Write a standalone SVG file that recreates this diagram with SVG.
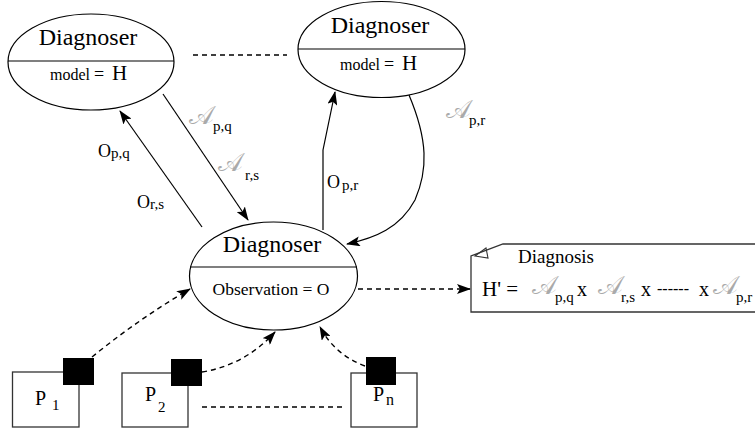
<svg xmlns="http://www.w3.org/2000/svg" width="755" height="432" viewBox="0 0 755 432" font-family="'Liberation Serif', 'Times New Roman', serif">
<style>
.el{fill:#fff;stroke:#000;stroke-width:1.2}
.ln{fill:none;stroke:#000;stroke-width:1.2}
.dash{fill:none;stroke:#000;stroke-width:1.4;stroke-dasharray:5,4}
.box{fill:#fff;stroke:#333;stroke-width:1.3}
.sq{fill:#000}
.scr{font-family:'DejaVu Serif','Noto Sans',serif;fill:#aaa}
.title{font-size:24px}
</style>
<defs>
<marker id="ah" markerWidth="14" markerHeight="10" refX="13" refY="5" orient="auto" markerUnits="userSpaceOnUse">
<path d="M0,0 L14,5 L0,10 L3,5 Z" fill="#000"/>
</marker>
</defs>

<g id="connectors">
<line class="dash" x1="193" y1="55" x2="287" y2="55"/>
<line class="ln" x1="202" y1="227" x2="120" y2="111" marker-end="url(#ah)"/>
<line class="ln" x1="163" y1="94" x2="248" y2="220" marker-end="url(#ah)"/>
<path class="ln" d="M323,230 L323,150 L335,92" marker-end="url(#ah)"/>
<path class="ln" d="M409,95 C428,140 428,170 415,200 C400,228 375,238 347,244" marker-end="url(#ah)"/>
<line class="dash" x1="358" y1="289" x2="470" y2="289" marker-end="url(#ah)"/>
<path class="dash" d="M92,357 Q140,318 190,289" marker-end="url(#ah)"/>
<path class="dash" d="M202,372 Q245,365 275,332" marker-end="url(#ah)"/>
<path class="dash" d="M365,366 Q335,355 320,327" marker-end="url(#ah)"/>
<line class="dash" x1="202" y1="407" x2="343" y2="407"/>
</g>

<g id="diag-left">
<ellipse class="el" cx="91" cy="62" rx="83" ry="48"/>
<line class="ln" x1="8" y1="61" x2="174" y2="61"/>
<text class="title" x="88" y="45" text-anchor="middle">Diagnoser</text>
<text x="50" y="80" font-size="16">model <tspan font-size="18">=</tspan><tspan x="112" font-size="21">H</tspan></text>
</g>

<g id="diag-right">
<ellipse class="el" cx="381.5" cy="49.5" rx="83.5" ry="48"/>
<line class="ln" x1="298" y1="49" x2="465" y2="49"/>
<text class="title" x="380" y="33" text-anchor="middle">Diagnoser</text>
<text x="340" y="70" font-size="16">model <tspan font-size="18">=</tspan><tspan x="402" font-size="21">H</tspan></text>
</g>

<g id="diag-center">
<ellipse class="el" cx="273.5" cy="276" rx="84" ry="54"/>
<line class="ln" x1="190" y1="267" x2="357" y2="267"/>
<text class="title" x="272" y="252" text-anchor="middle">Diagnoser</text>
<text x="271" y="295" font-size="17.5" text-anchor="middle">Observation = O</text>
</g>

<g id="labels">
<text x="98" y="157" font-size="18">O<tspan font-size="15" dy="1">p,q</tspan></text>
<text x="137" y="208" font-size="18">O<tspan font-size="15" dy="1">r,s</tspan></text>
<text x="327" y="188" font-size="18">O<tspan font-size="15" dx="2" dy="2">p,r</tspan></text>
<text x="189" y="124" font-size="26" class="scr">𝒜</text><text x="213" y="131" font-size="15">p,q</text>
<text x="218" y="171" font-size="26" class="scr">𝒜</text><text x="245" y="180" font-size="15">r,s</text>
<text x="446" y="118" font-size="26" class="scr">𝒜</text><text x="469" y="125" font-size="15">p,r</text>
</g>

<g id="diagnosis">
<path class="box" d="M503,244 L760,244 L760,312 L471,312 L471,256 Z"/>
<path fill="none" stroke="#333" stroke-width="1.1" d="M475,256 L488,258 L486,248 Z"/>
<text x="518" y="263" font-size="19">Diagnosis</text>
<text x="482" y="296" font-size="21">H' = </text>
<text x="532" y="294" font-size="26" class="scr">𝒜</text><text x="555" y="302" font-size="15">p,q</text>
<text x="577" y="296" font-size="20">x</text>
<text x="598" y="294" font-size="26" class="scr">𝒜</text><text x="621" y="302" font-size="15">r,s</text>
<text x="641" y="296" font-size="20">x</text>
<text x="657" y="294" font-size="16">------</text>
<text x="699" y="296" font-size="20">x</text>
<text x="713" y="294" font-size="26" class="scr">𝒜</text><text x="736" y="302" font-size="15">p,r</text>
</g>

<g id="p1">
<rect class="box" x="12.5" y="372" width="66.5" height="55"/>
<rect class="sq" x="63" y="358" width="31" height="27"/>
<text x="35" y="405" font-size="20">P</text><text x="52" y="410" font-size="15">1</text>
</g>
<g id="p2">
<rect class="box" x="122" y="373" width="66" height="54"/>
<rect class="sq" x="171" y="359" width="31" height="27"/>
<text x="145" y="401" font-size="20">P</text><text x="158" y="412" font-size="15">2</text>
</g>
<g id="pn">
<rect class="box" x="351" y="373" width="66" height="54"/>
<rect class="sq" x="366" y="357" width="30" height="28"/>
<text x="373" y="401" font-size="20">P</text><text x="386" y="405" font-size="16">n</text>
</g>
</svg>
